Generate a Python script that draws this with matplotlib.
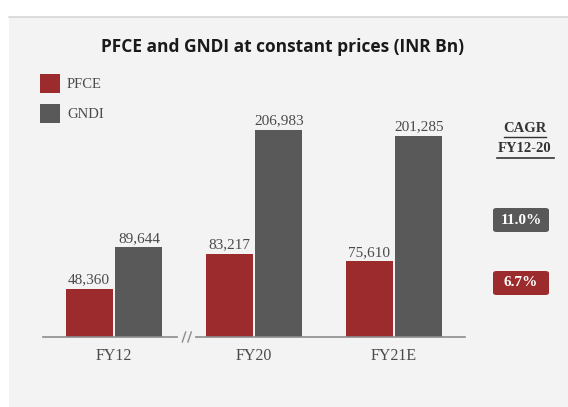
import matplotlib.pyplot as plt
from matplotlib.patches import Rectangle, FancyBboxPatch
from matplotlib.lines import Line2D
import numpy as np

categories = ['FY12', 'FY20', 'FY21E']
pfce = [48360, 83217, 75610]
gndi = [89644, 206983, 201285]
series_names = ['PFCE', 'GNDI']
cagr_labels = ['11.0%', '6.7%']

RED = '#9b2b2c'
GRAY = '#595959'
TXT = '#4a4a4a'
W, H = 568, 407

fig = plt.figure(figsize=(W / 100, H / 100), dpi=100)
fig.patch.set_facecolor('white')

def fx(px):
    return px / W

def fy(py):
    return 1 - py / H

# background panel
fig.patches.append(Rectangle((fx(9), 0), 1 - fx(9), fy(17), transform=fig.transFigure,
                             facecolor='#f3f3f3', edgecolor='none', zorder=-2))
fig.add_artist(Line2D([fx(9), 1], [fy(17), fy(17)], color='#d6d6d6', lw=1.2, zorder=-1))

# axes: baseline at y=337px, 1 px ~ 1000 units
ax = fig.add_axes([fx(43), fy(337), fx(465) - fx(43), 260 / H])
ax.set_facecolor('none')
ax.set_xlim(-0.507, 2.507)
ax.set_ylim(0, 260000)
for s in ['top', 'right', 'left']:
    ax.spines[s].set_visible(False)
ax.spines['bottom'].set_color('#8c8c8c')
ax.spines['bottom'].set_linewidth(1.2)
ax.set_yticks([])

x = np.arange(len(categories))
bw = 0.335
ax.bar(x - 0.178, pfce, bw, color=RED, label=series_names[0], zorder=2)
ax.bar(x + 0.178, gndi, bw, color=GRAY, label=series_names[1], zorder=2)

for xi, v in zip(x - 0.178, pfce):
    ax.text(xi, v + 2500, f'{v:,}', ha='center', va='bottom', family='Liberation Serif',
            fontsize=11, color=TXT)
for xi, v in zip(x + 0.178, gndi):
    ax.text(xi, v + 2500, f'{v:,}', ha='center', va='bottom', family='Liberation Serif',
            fontsize=11, color=TXT)

ax.set_xticks(x)
ax.set_xticklabels(categories, family='Liberation Serif', fontsize=11.5, color=TXT)
ax.tick_params(axis='x', length=0, pad=8)

# axis break marks
bx = 0.52
ax.plot([bx - 0.045, bx + 0.045], [0, 0], color='#f3f3f3', lw=3, zorder=3, clip_on=False)
for dx in (-0.02, 0.02):
    ax.plot([bx + dx - 0.012, bx + dx + 0.012], [-5000, 5000], color='#8c8c8c', lw=1,
            zorder=4, clip_on=False)

# title
fig.text(fx(283), fy(47), 'PFCE and GNDI at constant prices (INR Bn)', ha='center', va='center',
         family='Open Sans', fontweight='bold', fontsize=12.5, color='#1a1a1a')

# legend
for i, (name, c) in enumerate(zip(series_names, [RED, GRAY])):
    y0 = 74 + i * 30
    fig.patches.append(Rectangle((fx(40), fy(y0 + 19)), 20 / W, 19 / H, transform=fig.transFigure,
                                 facecolor=c, edgecolor='none'))
    fig.text(fx(67), fy(y0 + 10), name, ha='left', va='center', family='Liberation Serif',
             fontsize=10.5, color=TXT)

# CAGR header
fig.text(fx(525), fy(128), 'CAGR', ha='center', va='center', family='Liberation Serif',
         fontweight='bold', fontsize=10.5, color='#333333')
fig.text(fx(525), fy(149), 'FY12-20', ha='center', va='center', family='Liberation Serif',
         fontweight='bold', fontsize=10.5, color='#333333')
fig.add_artist(Line2D([fx(504), fx(546)], [fy(137), fy(137)], color='#333333', lw=1))
fig.add_artist(Line2D([fx(497), fx(554)], [fy(158), fy(158)], color='#333333', lw=1.2))

# CAGR boxes
for lab, c, cy in zip(cagr_labels, [GRAY, RED], [220, 283]):
    fig.patches.append(FancyBboxPatch((fx(493), fy(cy + 12)), 56 / W, 24 / H,
                                      boxstyle='round,pad=0,rounding_size=0.006',
                                      transform=fig.transFigure, facecolor=c, edgecolor='none'))
    fig.text(fx(521), fy(cy), lab, ha='center', va='center', family='Liberation Serif',
             fontweight='bold', fontsize=11, color='white')

fig.savefig('out.png', dpi=100, facecolor=fig.get_facecolor())
